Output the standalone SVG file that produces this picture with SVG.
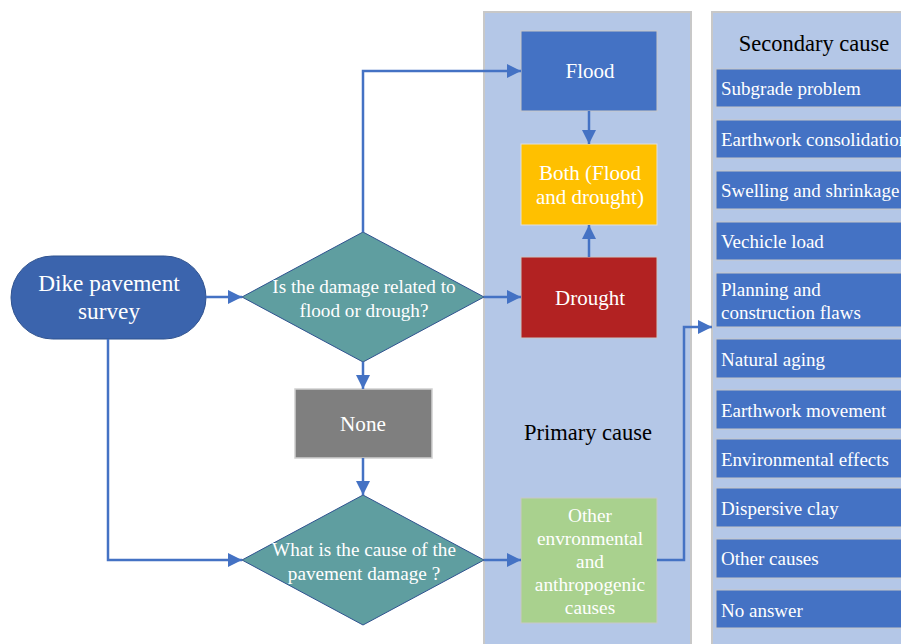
<svg xmlns="http://www.w3.org/2000/svg" width="901" height="644" viewBox="0 0 901 644">
<style>
text{font-family:'Liberation Serif','Times New Roman',serif;}
.w{fill:#fff;}
.c{text-anchor:middle;}
.panel{fill:#b4c7e7;stroke:#c8c8c8;stroke-width:2;}
.item{fill:#4472c4;stroke:#c8c8c8;stroke-width:1;}
.it{fill:#fff;font-size:19px;}
.conn{fill:none;stroke:#4472c4;stroke-width:2.5;marker-end:url(#ah);}
</style>
<defs>
<marker id="ah" viewBox="0 0 10 10" refX="10" refY="5" markerWidth="5.6" markerHeight="5.6" markerUnits="strokeWidth" orient="auto"><path d="M0,0 L10,5 L0,10 Z" fill="#4472c4"/></marker>
</defs>
<rect width="901" height="644" fill="#fff"/>
<g id="primary-panel"><rect class="panel" x="484" y="12" width="207" height="640"/><text x="588" y="440" font-size="22.5" class="c" fill="#000">Primary cause</text></g>
<g id="secondary-panel"><rect class="panel" x="712" y="12" width="200" height="640"/><text x="814" y="51" font-size="22.5" class="c" fill="#000">Secondary cause</text></g>
<g id="start"><rect x="11" y="256" width="195" height="83" rx="41.5" fill="#3b64ad" stroke="#2f528f" stroke-width="1"/><text class="w c" font-size="23.3" x="109" y="291">Dike pavement</text><text class="w c" font-size="23.3" x="109" y="319">survey</text></g>
<g id="q1"><polygon points="242,297 363,232 484,297 363,362" fill="#5f9ea0" stroke="#2f528f" stroke-width="1"/><text class="w c" font-size="19.2" x="364" y="293">Is the damage related to</text><text class="w c" font-size="19.2" x="364" y="317">flood or drough?</text></g>
<g id="none"><rect x="295" y="389" width="137" height="69" fill="#7f7f7f" stroke="#d0d0d0" stroke-width="1.5"/><text class="w c" font-size="21.2" x="363" y="431">None</text></g>
<g id="q2"><polygon points="242,560 363,495 484,560 363,625" fill="#5f9ea0" stroke="#2f528f" stroke-width="1"/><text class="w c" font-size="19.2" x="364" y="556">What is the cause of the</text><text class="w c" font-size="19.2" x="364" y="580">pavement damage ?</text></g>
<g id="flood"><rect x="521" y="31" width="136" height="80" fill="#4472c4" stroke="#c8c8c8" stroke-width="1"/><text class="w c" font-size="21" x="590" y="78">Flood</text></g>
<g id="both"><rect x="521" y="144" width="136" height="81" fill="#ffc000" stroke="#e0e0e0" stroke-width="1"/><text class="w c" font-size="21" x="590" y="180">Both (Flood</text><text class="w c" font-size="21" x="590" y="204">and drought)</text></g>
<g id="drought"><rect x="521" y="257" width="136" height="81" fill="#b22222" stroke="#c8c8c8" stroke-width="1"/><text class="w c" font-size="21" x="590" y="305">Drought</text></g>
<g id="other"><rect x="521" y="498" width="136" height="125" fill="#a9d18e" stroke="#c8c8c8" stroke-width="1"/><text class="w c" font-size="19.3"><tspan x="590" y="522">Other</tspan><tspan x="590" y="545">envronmental</tspan><tspan x="590" y="568">and</tspan><tspan x="590" y="591">anthropogenic</tspan><tspan x="590" y="614">causes</tspan></text></g>
<g id="s1"><rect class="item" x="716" y="69" width="200" height="38"/><text class="it" x="721" y="95">Subgrade problem</text></g>
<g id="s2"><rect class="item" x="716" y="120" width="200" height="38"/><text class="it" x="721" y="146">Earthwork consolidation</text></g>
<g id="s3"><rect class="item" x="716" y="171" width="200" height="38"/><text class="it" x="721" y="197">Swelling and shrinkage</text></g>
<g id="s4"><rect class="item" x="716" y="222" width="200" height="38"/><text class="it" x="721" y="248">Vechicle load</text></g>
<g id="s5"><rect class="item" x="716" y="273" width="200" height="54"/><text class="it" x="721" y="296">Planning and</text><text class="it" x="721" y="319">construction flaws</text></g>
<g id="s6"><rect class="item" x="716" y="339" width="200" height="39"/><text class="it" x="721" y="366">Natural aging</text></g>
<g id="s7"><rect class="item" x="716" y="390" width="200" height="39"/><text class="it" x="721" y="417">Earthwork movement</text></g>
<g id="s8"><rect class="item" x="716" y="439" width="200" height="39"/><text class="it" x="721" y="466">Environmental effects</text></g>
<g id="s9"><rect class="item" x="716" y="488" width="200" height="39"/><text class="it" x="721" y="515">Dispersive clay</text></g>
<g id="s10"><rect class="item" x="716" y="539" width="200" height="39"/><text class="it" x="721" y="565">Other causes</text></g>
<g id="s11"><rect class="item" x="716" y="590" width="200" height="38"/><text class="it" x="721" y="617">No answer</text></g>
<g id="connectors">
<path class="conn" d="M206,297 L242,297"/>
<path class="conn" d="M363,232 L363,71 L521,71"/>
<path class="conn" d="M484,297 L521,297"/>
<path class="conn" d="M363,362 L363,389"/>
<path class="conn" d="M363,458 L363,495"/>
<path class="conn" d="M108,339 L108,560 L242,560"/>
<path class="conn" d="M484,560 L521,560"/>
<path class="conn" d="M589,111 L589,144"/>
<path class="conn" d="M589,257 L589,225"/>
<path class="conn" d="M657,560 L684,560 L684,327 L712,327"/>
</g>
</svg>
